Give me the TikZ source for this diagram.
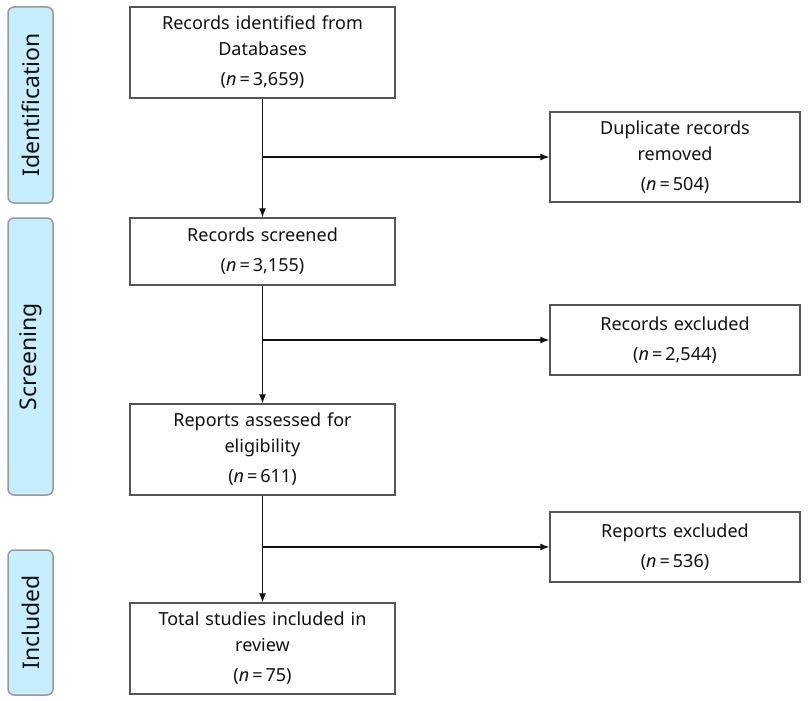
\documentclass[tikz,border=0pt]{standalone}
\usepackage{fontspec}
\setmainfont{Noto Sans}
\usetikzlibrary{arrows.meta}
\definecolor{txt}{HTML}{111111}
\definecolor{boxline}{HTML}{555555}
\definecolor{sidefill}{HTML}{C6EEFC}
\definecolor{sideline}{HTML}{999999}
\begin{document}
\begin{tikzpicture}[x=1pt,y=-1pt,
  mainbox/.style={draw=boxline,line width=1.3pt,fill=white,text=txt,align=center,
    text width=265pt,inner sep=0pt,font=\fontsize{18}{26}\selectfont},
  sidebox/.style={draw=boxline,line width=1.3pt,fill=white,text=txt,align=center,
    text width=250pt,inner sep=0pt,font=\fontsize{18}{26}\selectfont},
  phase/.style={draw=sideline,line width=1.5pt,fill=sidefill,rounded corners=6pt,
    rotate=90,text=txt,inner sep=0pt,minimum height=45pt,font=\fontsize{23}{27}\selectfont},
  flow/.style={line width=1.2pt,draw=txt,-{Latex[length=9pt,width=7pt]}}]
\useasboundingbox (0,0) rectangle (811,701);
% phase labels
\node[phase,minimum width=196pt] (pid) at (30.5,105) {Identification};
\node[phase,minimum width=277pt] (psc) at (30.5,356.5) {Screening};
\node[phase,minimum width=145pt] (pin) at (30.5,622.5) {Included};
% main boxes
\node[mainbox,minimum height=91pt] (b1) at (262.5,52.5)
  {Records identified from\\Databases\\[4pt](\textit{n}\,=\,3,659)};
\node[mainbox,minimum height=67pt] (b2) at (262.5,251.5)
  {Records screened\\[4pt](\textit{n}\,=\,3,155)};
\node[mainbox,minimum height=91pt] (b3) at (262.5,449.5)
  {Reports assessed for\\eligibility\\[4pt](\textit{n}\,=\,611)};
\node[mainbox,minimum height=91pt] (b4) at (262.5,648.5)
  {Total studies included in\\review\\[4pt](\textit{n}\,=\,75)};
% side boxes
\node[sidebox,minimum height=90pt] (s1) at (675,157)
  {Duplicate records\\removed\\[4pt](\textit{n}\,=\,504)};
\node[sidebox,minimum height=70pt] (s2) at (675,340)
  {Records excluded\\[4pt](\textit{n}\,=\,2,544)};
\node[sidebox,minimum height=70pt] (s3) at (675,547)
  {Reports excluded\\[4pt](\textit{n}\,=\,536)};
% coordinates on the trunk
\coordinate (j1) at (b1.south |- s1.west);
\coordinate (j2) at (b2.south |- s2.west);
\coordinate (j3) at (b3.south |- s3.west);
% connectors
\draw[flow] (b1.south) -- (b2.north);
\draw[flow] (b2.south) -- (b3.north);
\draw[flow] (b3.south) -- (b4.north);
\draw[flow] (j1) -- (s1.west);
\draw[flow] (j2) -- (s2.west);
\draw[flow] (j3) -- (s3.west);
\end{tikzpicture}
\end{document}
